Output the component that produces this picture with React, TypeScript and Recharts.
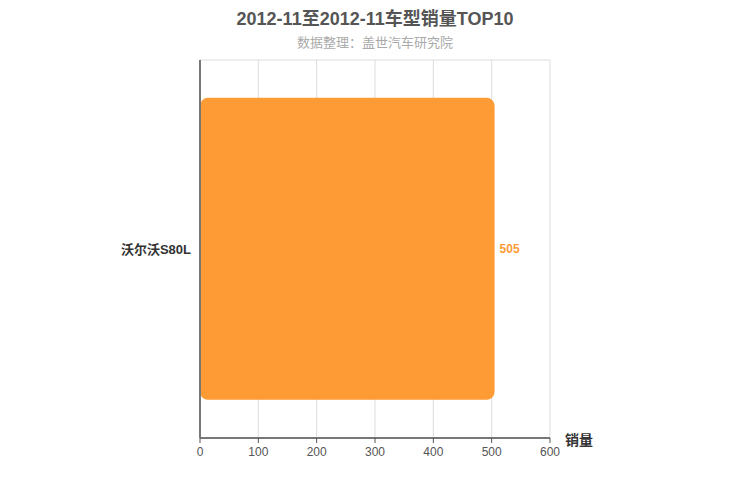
import React from 'react';
import { BarChart, Bar, XAxis, YAxis, CartesianGrid, LabelList } from 'recharts';

const models = ['沃尔沃S80L'];
const sales = [505];
const xTicks = [0, 100, 200, 300, 400, 500, 600];

const data = models.map((name, i) => ({ name, value: sales[i] }));

const FONT = '"Liberation Sans", Arial, "Noto Sans CJK SC", sans-serif';

const App = () => {
  return (
    <div style={{ position: 'absolute', left: 0, top: 0, width: 750, height: 500, fontFamily: FONT, background: '#fff' }}>
      <div style={{ position: 'absolute', top: 4, width: 750, textAlign: 'center', fontSize: 18, fontWeight: 'bold', color: '#555' }}>
        2012-11至2012-11车型销量TOP10
      </div>
      <div style={{ position: 'absolute', top: 32, width: 750, textAlign: 'center', fontSize: 13, color: '#aaa' }}>
        数据整理：盖世汽车研究院
      </div>
      <BarChart
        width={750}
        height={500}
        data={data}
        layout="vertical"
        margin={{ top: 60, right: 200, bottom: 32, left: 80 }}
        barCategoryGap="10%"
        style={{ fontFamily: FONT }}
      >
        <CartesianGrid
          stroke="#ddd"
          horizontalCoordinatesGenerator={({ offset }) => [offset.top, offset.top + offset.height]}
        />
        <XAxis
          type="number"
          domain={[0, 600]}
          ticks={xTicks}
          height={30}
          stroke="#555"
          tick={{ fill: '#555', fontSize: 12 }}
          tickSize={5}
          tickMargin={4}
          tickLine={{ stroke: '#555' }}
          axisLine={{ stroke: '#777', strokeWidth: 2 }}
        />
        <YAxis
          type="category"
          dataKey="name"
          width={120}
          axisLine={{ stroke: '#777', strokeWidth: 2 }}
          tickLine={false}
          tickMargin={3}
          tick={{ fill: '#333', fontSize: 13, fontWeight: 'bold' }}
        />
        <Bar dataKey="value" fill="#ff9b35" radius={8} isAnimationActive={false}>
          <LabelList dataKey="value" position="right" offset={5} fill="#ff9b35" fontSize={12} fontWeight="bold" />
        </Bar>
      </BarChart>
      <div style={{ position: 'absolute', left: 565, top: 429, fontSize: 14, fontWeight: 'bold', color: '#333' }}>
        销量
      </div>
    </div>
  );
};

export default App;
